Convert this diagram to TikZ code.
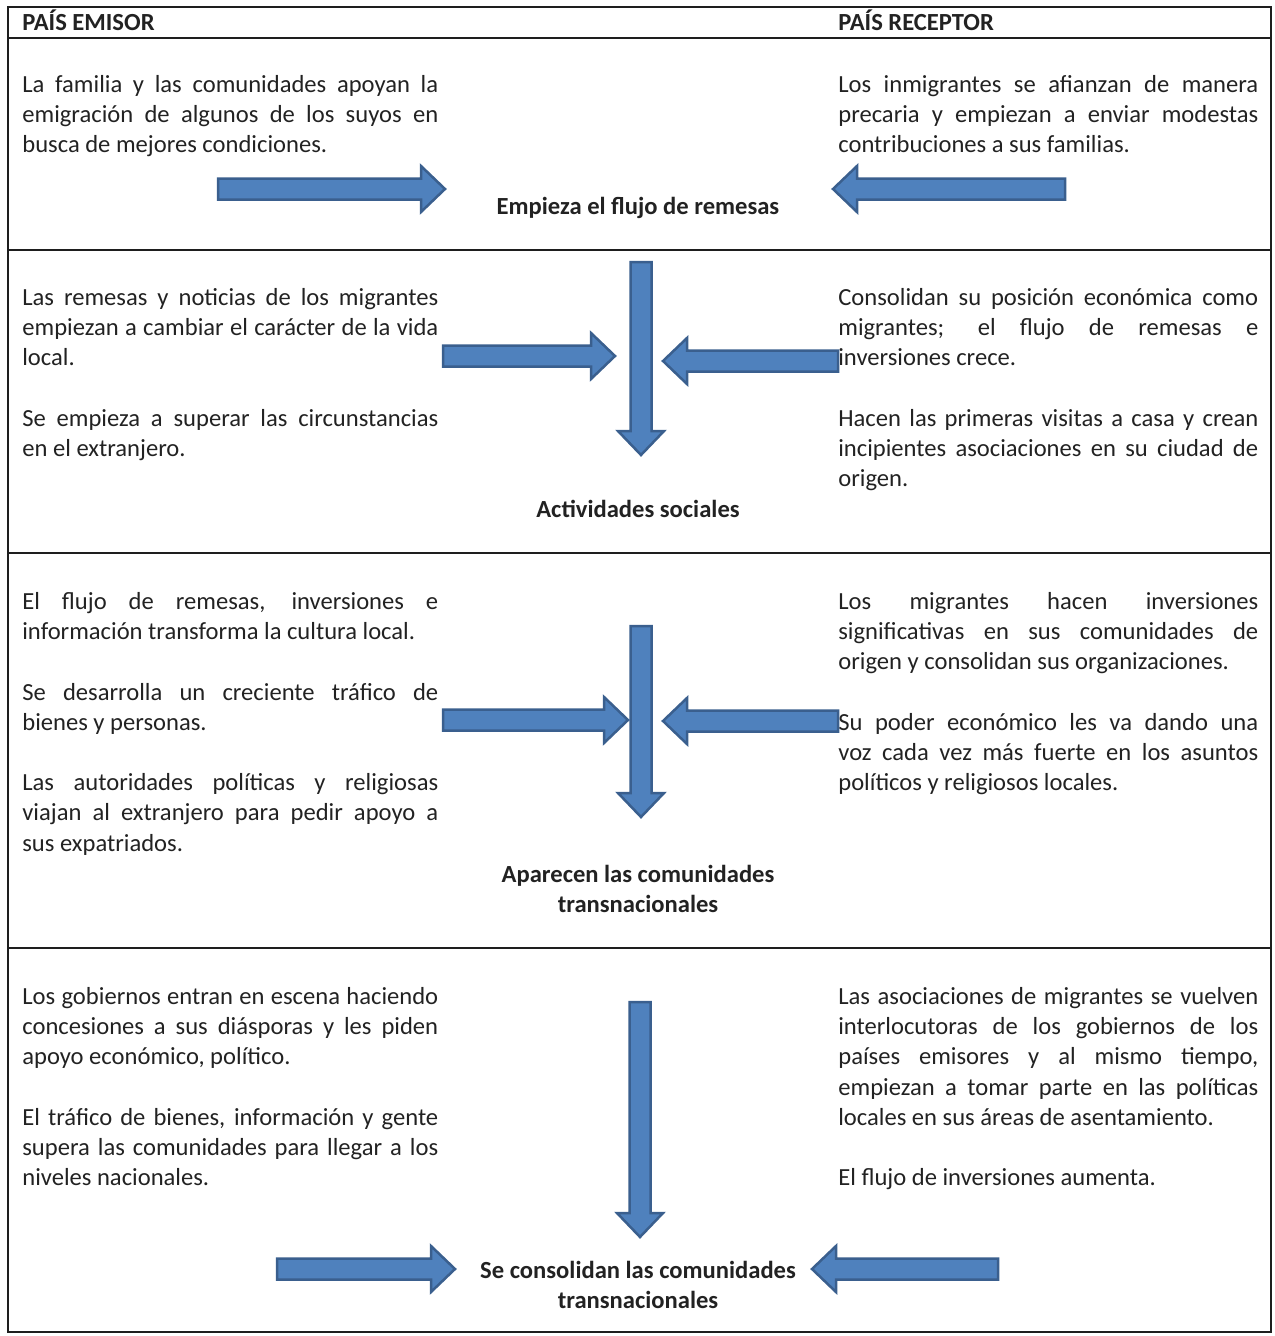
\documentclass[tikz,border=0pt]{standalone}
\usepackage{fontspec}
\setmainfont{Carlito}
\usepackage{tikz}
\usetikzlibrary{calc}
\definecolor{myblue}{HTML}{4F81BD}
\definecolor{myblueedge}{HTML}{3A5F8E}
\definecolor{mytext}{HTML}{222222}
\definecolor{myline}{HTML}{1E1E1E}
\newcommand{\bodyfont}{\fontsize{14}{17.2}\selectfont\setlength{\parskip}{17.2pt}\setlength{\parindent}{0pt}}
\tikzset{x=0.02cm, y=-0.02cm, every text node part/.style={text=mytext}}
\tikzstyle{frame} = [draw=myline, line width=0.04cm]
\tikzstyle{head} = [anchor=base west, inner sep=0pt, font=\fontsize{14}{17.2}\selectfont\bfseries]
\tikzstyle{txt} = [anchor=north west, inner sep=0pt, text width=8.32cm, align=justify, font=\bodyfont]
\tikzstyle{stage} = [inner sep=0pt, align=center, font=\fontsize{14}{17.2}\selectfont\bfseries]
\tikzstyle{barrow} = [draw=myblueedge, fill=myblue, line width=0.05cm, line join=miter]
% block arrow: tail x, tail y, length, angle
\newcommand{\blockarrow}[4]{\draw[barrow, shift={(#1,#2)}, rotate=#4] (0,-10.5) -- ({#3-24},-10.5) -- ({#3-24},-23) -- (#3,0) -- ({#3-24},23) -- ({#3-24},10.5) -- (0,10.5) -- cycle;}

\begin{document}
\begin{tikzpicture}
  \useasboundingbox (0,0) rectangle (1275,1336);
  \draw[frame] (8,7) rectangle (1271,1332);
  \foreach \y in {38,250,553,948}
    \draw[frame] (8,\y) -- (1271,\y);

  \node[head] (emisor) at (22,30) {PAÍS EMISOR};
  \node[head] (receptor) at (838,30) {PAÍS RECEPTOR};

  % first stage
  \node[txt] (em1) at (22,75) {La familia y las comunidades apoyan la\linebreak emigración de algunos de los suyos en\linebreak busca de mejores condiciones.};
  \node[txt, text width=8.4cm] (re1) at (838,75) {Los inmigrantes se afianzan de manera\linebreak precaria y empiezan a enviar modestas\linebreak contribuciones a sus familias.};
  \node[stage] (flujo) at (638,208) {Empieza el flujo de remesas};
  \blockarrow{218}{189}{227}{0}
  \blockarrow{1065}{189}{232}{180}

  % second stage
  \node[txt] (em2) at (22,288) {Las remesas y noticias de los migrantes\linebreak empiezan a cambiar el carácter de la vida\linebreak local.\par
    Se empieza a superar las circunstancias\linebreak en el extranjero.};
  \node[txt, text width=8.4cm] (re2) at (838,288) {Consolidan su posición económica como\linebreak migrantes; el flujo de remesas e\linebreak inversiones crece.\par
    Hacen las primeras visitas a casa y crean\linebreak incipientes asociaciones en su ciudad de\linebreak origen.};
  \node[stage] (sociales) at (638,509) {Actividades sociales};
  \blockarrow{641}{262}{193}{-90}
  \blockarrow{443}{356}{172}{0}
  \blockarrow{838}{361}{175}{180}

  % third stage
  \node[txt] (em3) at (22,592) {El flujo de remesas, inversiones e\linebreak información transforma la cultura local.\par
    Se desarrolla un creciente tráfico de\linebreak bienes y personas.\par
    Las autoridades políticas y religiosas\linebreak viajan al extranjero para pedir apoyo a\linebreak sus expatriados.};
  \node[txt, text width=8.4cm] (re3) at (838,592) {Los migrantes hacen inversiones\linebreak significativas en sus comunidades de\linebreak origen y consolidan sus organizaciones.\par
    Su poder económico les va dando una\linebreak voz cada vez más fuerte en los asuntos\linebreak políticos y religiosos locales.};
  \node[stage] (aparecen) at (638,889) {Aparecen las comunidades\\transnacionales};
  \blockarrow{641}{626}{191}{-90}
  \blockarrow{443}{720}{185}{0}
  \blockarrow{838}{721}{175}{180}

  % fourth stage
  \node[txt] (em4) at (22,987) {Los gobiernos entran en escena haciendo\linebreak concesiones a sus diásporas y les piden\linebreak apoyo económico, político.\par
    El tráfico de bienes, información y gente\linebreak supera las comunidades para llegar a los\linebreak niveles nacionales.};
  \node[txt, text width=8.4cm] (re4) at (838,987) {Las asociaciones de migrantes se vuelven\linebreak interlocutoras de los gobiernos de los\linebreak países emisores y al mismo tiempo,\linebreak empiezan a tomar parte en las políticas\linebreak locales en sus áreas de asentamiento.\par
    El flujo de inversiones aumenta.};
  \node[stage] (consolidan) at (638,1285) {Se consolidan las comunidades\\transnacionales};
  \blockarrow{640}{1002}{235}{-90}
  \blockarrow{277}{1269}{178}{0}
  \blockarrow{998}{1269}{186}{180}
\end{tikzpicture}
\end{document}
